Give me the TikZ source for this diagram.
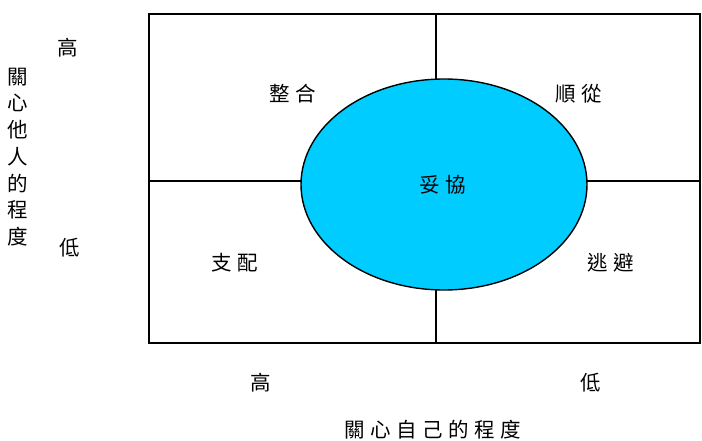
\documentclass[tikz,border=0pt]{standalone}
\usepackage{fontspec}
\newfontfamily\cjk{Noto Sans CJK TC}
\definecolor{ellcyan}{HTML}{00CCFF}
\tikzset{
  lbl/.style={font=\cjk\fontsize{20.5}{24}\selectfont, inner sep=0pt},
  frame/.style={line width=1.4pt, black},
}
\newcommand{\cgap}{\kern5.5pt}
\begin{document}
\begin{tikzpicture}[x=1pt,y=-1pt]
\useasboundingbox (0,0) rectangle (702,441);
\draw[frame] (149,14) rectangle (700,343);
\coordinate (vt) at (436,14);
\coordinate (vb) at (436,343);
\coordinate (hl) at (149,181);
\coordinate (hr) at (700,181);
\draw[frame] (vt) -- (vb);
\draw[frame] (hl) -- (hr);
\draw[frame, fill=ellcyan] (444,184.5) ellipse [x radius=143, y radius=105.5];
\node[lbl] (zh) at (293,94) {整\cgap 合};
\node[lbl] (sc) at (579,94) {順\cgap 從};
\node[lbl] (tx) at (443,185) {妥\cgap 協};
\node[lbl] (zp) at (235,263) {支\cgap 配};
\node[lbl] (tb) at (611,263) {逃\cgap 避};
\node[lbl] (yh) at (68,48) {高};
\node[lbl] (yl) at (70,248) {低};
\node[lbl] (xh) at (261,383) {高};
\node[lbl] (xl) at (591,383) {低};
\node[lbl] (xt) at (433,430) {關\cgap 心\cgap 自\cgap 己\cgap 的\cgap 程\cgap 度};
\node[lbl, align=center, font=\cjk\fontsize{20.5}{26.7}\selectfont] (yt) at (18,157) {關\\心\\他\\人\\的\\程\\度};
\end{tikzpicture}
\end{document}
